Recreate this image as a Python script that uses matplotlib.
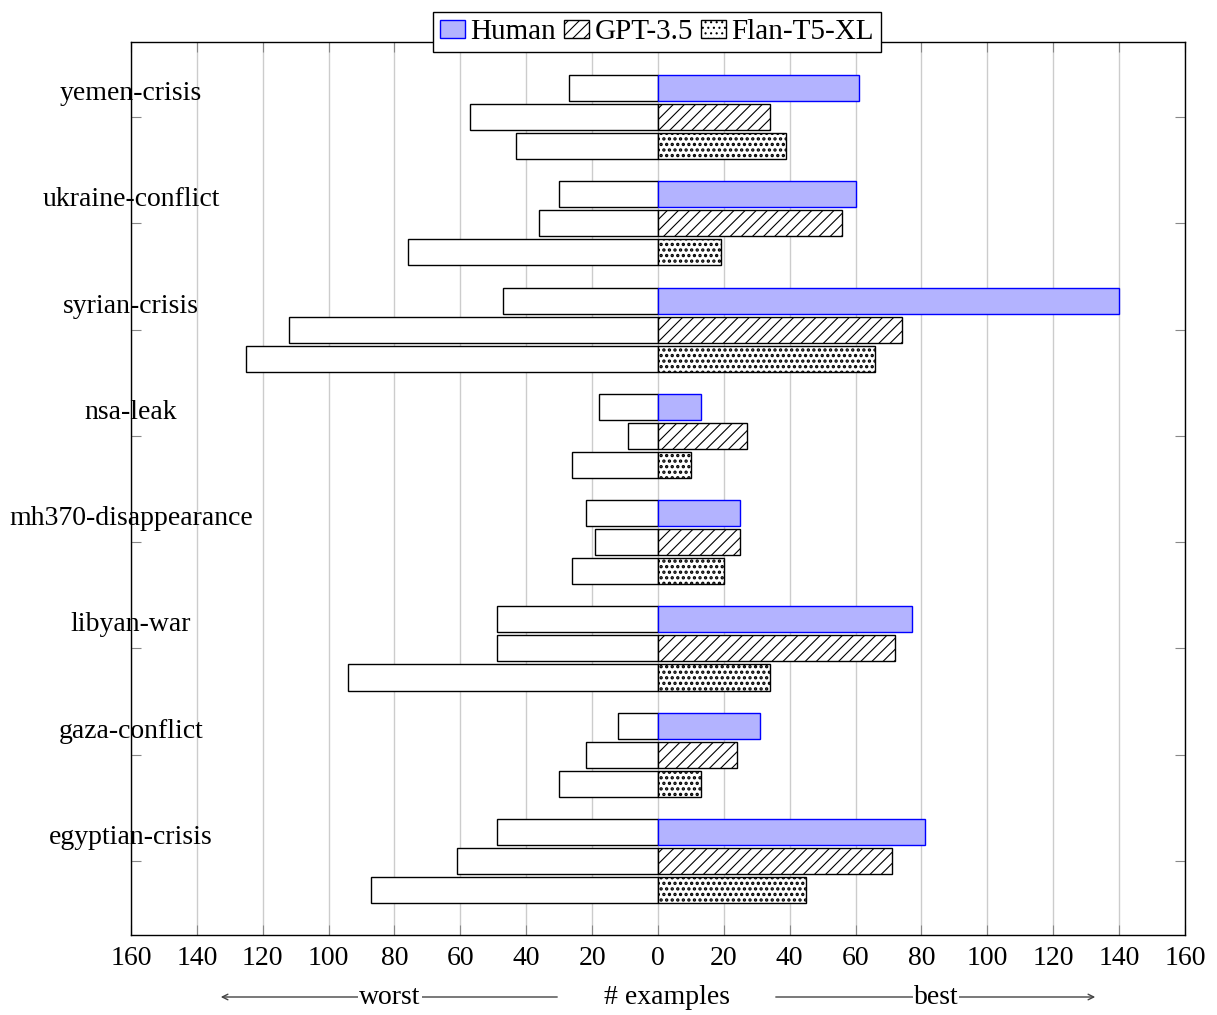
import numpy as np
import matplotlib
matplotlib.use("Agg")
import matplotlib.pyplot as plt
from matplotlib.ticker import FuncFormatter

plt.rcParams['font.family'] = ['Liberation Serif', 'DejaVu Serif']
plt.rcParams['hatch.linewidth'] = 0.8

# sujets (de haut en bas)
topics = ['yemen-crisis', 'ukraine-conflict', 'syrian-crisis', 'nsa-leak',
          'mh370-disappearance', 'libyan-war', 'gaza-conflict', 'egyptian-crisis']

# nombre d'exemples "best" / "worst" par systeme
human_best = [61, 60, 140, 13, 25, 77, 31, 81]
human_worst = [27, 30, 47, 18, 22, 49, 12, 49]
gpt_best = [34, 56, 74, 27, 25, 72, 24, 71]
gpt_worst = [57, 36, 112, 9, 19, 49, 22, 61]
flan_best = [39, 19, 66, 10, 20, 34, 13, 45]
flan_worst = [43, 76, 125, 26, 26, 94, 30, 87]

x_ticks = list(range(-160, 161, 20))

FS = 20

fig = plt.figure(figsize=(12.17, 10.15), dpi=100)
ax = fig.add_axes([0.1076, 0.0788, 0.8661, 0.8798])

n = len(topics)
y = np.arange(n)[::-1].astype(float)
off = 0.273
h = 0.245

series = [
    ('Human', human_best, human_worst, off, dict(color='#b3b3ff', edgecolor='blue'), 0.8),
    ('GPT-3.5', gpt_best, gpt_worst, 0, dict(color='white', edgecolor='black', hatch='///'), 0.8),
    ('Flan-T5-XL', flan_best, flan_worst, -off, dict(color='white', edgecolor='black', hatch='...'), 1.6),
]

handles = []
for name, best, worst, dy, style, hlw in series:
    ax.barh(y + dy, -np.array(worst), height=h, color='white', edgecolor='black',
            linewidth=1, zorder=3)
    with plt.rc_context({'hatch.linewidth': hlw}):
        b = ax.barh(y + dy, best, height=h, linewidth=1, zorder=3, label=name, **style)
    handles.append(b)

ax.set_xlim(-160, 160)
ax.set_ylim(-0.696, n - 1 + 0.706)
ax.set_xticks(x_ticks)
ax.xaxis.set_major_formatter(FuncFormatter(lambda v, p: f"{abs(int(v))}"))
ax.set_yticks(y)
ax.set_yticklabels([])
ax.tick_params(axis='x', direction='in', length=7, color='#888888', top=True,
               labelsize=FS, pad=8)
ax.tick_params(axis='y', direction='in', length=7, color='#888888', right=True)
ax.grid(axis='x', color='#cccccc', linewidth=1, zorder=0)
ax.set_axisbelow(True)
for s in ax.spines.values():
    s.set_linewidth(1)

for yi, t in zip(y, topics):
    ax.text(-160, yi + 0.16, t, ha='center', va='baseline', fontsize=FS, zorder=5)

leg = ax.legend(handles=handles, loc='center', bbox_to_anchor=(0.499, 1.011), ncol=3,
                fontsize=21, frameon=True, fancybox=False, edgecolor='black',
                framealpha=1, handlelength=0.86, handleheight=0.55,
                handletextpad=0.17, columnspacing=0.28, borderpad=0.25,
                borderaxespad=0)
leg.get_frame().set_linewidth(1)
leg.set_zorder(10)

# libelle de l'axe x avec les fleches
W, H = 1217.0, 1015.0
yl = 1 - 997 / H
fig.text(667 / W, yl, '# examples', ha='center', va='center', fontsize=FS)
fig.add_artist(matplotlib.patches.FancyArrowPatch((560 / W, yl), (218 / W, yl),
               transform=fig.transFigure, arrowstyle='->', mutation_scale=10,
               color='#444444', linewidth=1))
fig.add_artist(matplotlib.patches.FancyArrowPatch((773 / W, yl), (1098 / W, yl),
               transform=fig.transFigure, arrowstyle='->', mutation_scale=10,
               color='#444444', linewidth=1))
fig.text(390 / W, yl, 'worst', ha='center', va='center', fontsize=FS,
         bbox=dict(facecolor='white', edgecolor='none', pad=0.5), zorder=5)
fig.text(936 / W, yl, 'best', ha='center', va='center', fontsize=FS,
         bbox=dict(facecolor='white', edgecolor='none', pad=0.5), zorder=5)

fig.savefig('out.png', dpi=100)
